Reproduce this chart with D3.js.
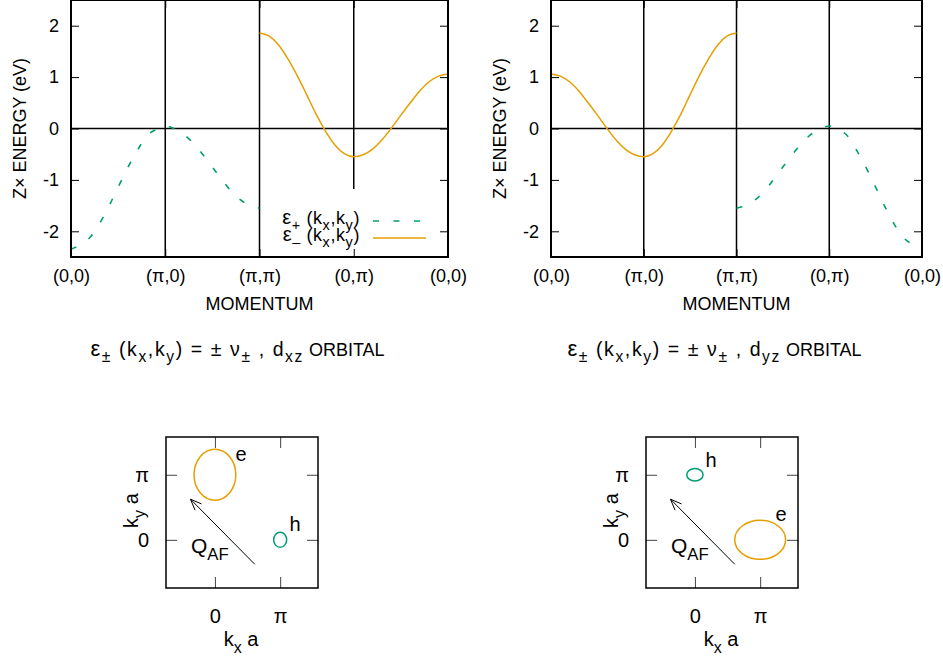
<!DOCTYPE html>
<html>
<head>
<meta charset="utf-8">
<script src="https://cdn.jsdelivr.net/npm/d3@7"></script>
<style>
body { margin: 0; background: #fff; }
text { font-family: "Liberation Sans", Arial, sans-serif; fill: #000; white-space: pre; }
</style>
</head>
<body>
<div id="chart"></div>
<script>
// path through the zone: (0,0)=0 (pi,0)=1 (pi,pi)=2 (0,pi)=3 (0,0)=4
var pathTicks = [0, 1, 2, 3, 4];
var pathLabels = ["(0,0)", "(π,0)", "(π,π)", "(0,π)", "(0,0)"];
var energyTicks = [-2, -1, 0, 1, 2];

var kFirst = [0, 0.1, 0.2, 0.3, 0.4, 0.5, 0.6, 0.7, 0.8, 0.9, 1.0,
              1.1, 1.2, 1.3, 1.4, 1.5, 1.6, 1.7, 1.8, 1.9, 2.0];
var kSecond = [2.0, 2.1, 2.2, 2.3, 2.4, 2.5, 2.6, 2.7, 2.8, 2.9, 3.0,
               3.1, 3.2, 3.3, 3.4, 3.5, 3.6, 3.7, 3.8, 3.9, 4.0];

// d_xz orbital
var xzPlus = [-2.35, -2.26, -2.12, -1.86, -1.52, -1.14, -0.77, -0.44, -0.15, -0.02, 0.05,
              -0.01, -0.12, -0.29, -0.51, -0.75, -0.99, -1.22, -1.39, -1.50, -1.55];
var xzMinus = [1.86, 1.80, 1.63, 1.36, 1.03, 0.66, 0.28, -0.05, -0.32, -0.49, -0.55,
               -0.51, -0.40, -0.22, 0.01, 0.26, 0.50, 0.73, 0.91, 1.02, 1.06];
// d_yz orbital
var yzMinus = [1.06, 1.02, 0.91, 0.73, 0.50, 0.26, 0.01, -0.22, -0.40, -0.51, -0.55,
               -0.49, -0.32, -0.05, 0.28, 0.66, 1.03, 1.36, 1.63, 1.80, 1.86];
var yzPlus = [-1.55, -1.50, -1.39, -1.22, -0.99, -0.75, -0.51, -0.29, -0.12, -0.01, 0.05,
              -0.02, -0.15, -0.44, -0.77, -1.14, -1.52, -1.86, -2.12, -2.26, -2.35];

// Fermi pockets (units of pi): [kx, ky, half width, half height]
var xzElectron = [0, 1, 0.32, 0.39];
var xzHole = [1, 0, 0.10, 0.115];
var yzElectron = [1, 0, 0.39, 0.30];
var yzHole = [0, 1, 0.125, 0.097];
var qAF = [[0.61, -0.375], [-0.375, 0.625]];
var bzTicks = [0, 1];
var bzLabels = ["0", "π"];

var green = "#009e73", orange = "#e69f00";
var W = 943, H = 659;

var svg = d3.select("#chart").append("svg")
  .attr("width", W)
  .attr("height", H);

// text with subscripts: parts = [[string, isSub, size override, letter spacing override], ...]
function richText(g, parts, x, y, size, anchor, spacing) {
  var t = g.append("text")
    .attr("x", x)
    .attr("y", y)
    .attr("font-size", size)
    .attr("text-anchor", anchor || "start");
  var shift = 0;
  parts.forEach(function(p) {
    var base = p[2] || size;
    var target = p[1] ? base * 0.33 : 0;
    var ls = p[3] !== undefined ? p[3] : spacing;
    t.append("tspan")
      .attr("dy", target - shift)
      .attr("font-size", p[1] ? base * 0.8 : base)
      .attr("letter-spacing", ls || null)
      .text(p[0]);
    shift = target;
  });
  return t;
}

var panels = [
  {left: 71, right: 448, plus: [kFirst, xzPlus], minus: [kSecond, xzMinus], legend: true, cut: -1.2, sub: "xz"},
  {left: 551, right: 922, plus: [kSecond, yzPlus], minus: [kFirst, yzMinus], legend: false, cut: -2.5, sub: "yz"}
];

var plotTop = 0, plotBottom = 257;

panels.forEach(function(p) {
  var x = d3.scaleLinear().domain([0, 4]).range([p.left, p.right]);
  var y = d3.scaleLinear().domain([-2.5, 2.5]).range([plotBottom, plotTop]);
  var g = svg.append("g");

  // zero line and high symmetry lines
  g.append("line")
    .attr("x1", x(0)).attr("x2", x(4))
    .attr("y1", y(0)).attr("y2", y(0))
    .attr("stroke", "#000").attr("stroke-width", 1.5);
  [1, 2, 3].forEach(function(k) {
    g.append("line")
      .attr("x1", x(k)).attr("x2", x(k))
      .attr("y1", y(2.5)).attr("y2", y(k == 3 ? p.cut : -2.5))
      .attr("stroke", "#000").attr("stroke-width", 1.5);
  });

  var line = d3.line()
    .x(function(d) { return x(d[0]); })
    .y(function(d) { return y(d[1]); })
    .curve(d3.curveMonotoneX);

  g.append("path")
    .datum(d3.zip(p.plus[0], p.plus[1]))
    .attr("d", line)
    .attr("fill", "none")
    .attr("stroke", green)
    .attr("stroke-width", 1.6)
    .attr("stroke-dasharray", "6,14.5");

  g.append("path")
    .datum(d3.zip(p.minus[0], p.minus[1]))
    .attr("d", line)
    .attr("fill", "none")
    .attr("stroke", orange)
    .attr("stroke-width", 1.5);

  // axes with inward ticks
  var fmt = function(d) { return String(d); };
  var ax = [
    g.append("g").attr("transform", "translate(" + x(0) + ",0)")
      .call(d3.axisLeft(y).tickValues(energyTicks).tickSize(-8).tickPadding(12).tickFormat(fmt)),
    g.append("g").attr("transform", "translate(" + x(4) + ",0)")
      .call(d3.axisRight(y).tickValues(energyTicks).tickSize(-8).tickFormat("")),
    g.append("g").attr("transform", "translate(0," + y(-2.5) + ")")
      .call(d3.axisBottom(x).tickValues(pathTicks).tickSize(-8).tickPadding(12)
        .tickFormat(function(d, i) { return pathLabels[i]; })),
    g.append("g").attr("transform", "translate(0," + y(2.5) + ")")
      .call(d3.axisTop(x).tickValues(pathTicks).tickSize(-8).tickFormat(""))
  ];
  ax.forEach(function(a) {
    a.attr("font-family", null).attr("font-size", null);
    a.select(".domain").remove();
    a.selectAll(".tick line").attr("stroke", "#000");
    a.selectAll(".tick text").attr("font-size", 18).attr("fill", "#000");
  });

  g.append("rect")
    .attr("x", x(0)).attr("y", y(2.5))
    .attr("width", x(4) - x(0)).attr("height", y(-2.5) - y(2.5))
    .attr("fill", "none").attr("stroke", "#000").attr("stroke-width", 2);

  g.append("text")
    .attr("transform", "translate(" + (x(0) - 51) + "," + y(0) + ") rotate(-90)")
    .attr("text-anchor", "middle")
    .attr("dy", "0.35em")
    .attr("font-size", 18)
    .text("Z× ENERGY (eV)");

  g.append("text")
    .attr("x", (x(0) + x(4)) / 2)
    .attr("y", 310)
    .attr("text-anchor", "middle")
    .attr("font-size", 18)
    .text("MOMENTUM");

  richText(g, [["ε", 0, 22], ["±", 1], [" (k"], ["x", 1], [",k"], ["y", 1], [") = ± ν"], ["±", 1],
               [" , d"], [p.sub, 1], [" ORBITAL", 0, 18, 0]],
           (x(0) + x(4)) / 2 - 22, 356, 19.5, "middle", 1.6);

  if (p.legend) {
    var lg = g.append("g");
    lg.append("rect")
      .attr("x", 276).attr("y", 189)
      .attr("width", 160).attr("height", 59)
      .attr("fill", "#fff");
    var rows = [["+", green, "6,14.5", 224], ["–", orange, null, 241]];
    rows.forEach(function(r) {
      richText(lg, [["ε", 0, 20], [r[0], 1], [" (k"], ["x", 1], [",k"], ["y", 1], [")"]], 360, r[3], 18, "end", 0.6);
      lg.append("line")
        .attr("x1", 373).attr("x2", 426)
        .attr("y1", r[3] - 3).attr("y2", r[3] - 3)
        .attr("stroke", r[1]).attr("stroke-width", 1.6)
        .attr("stroke-dasharray", r[2]);
    });
  }
});

// Fermi surface sketches
var bzPanels = [
  {left: 166, electron: xzElectron, hole: xzHole, eLabel: [241, 461], hLabel: [295, 531]},
  {left: 646, electron: yzElectron, hole: yzHole, eLabel: [781, 521], hLabel: [711, 467]}
];

bzPanels.forEach(function(p) {
  var x = d3.scaleLinear().domain([-0.75, 1.58]).range([p.left, p.left + 152]);
  var y = d3.scaleLinear().domain([-0.74, 1.58]).range([588, 437]);
  var g = svg.append("g");

  var piLab = function(d, i) { return bzLabels[i]; };
  var ax = [
    g.append("g").attr("transform", "translate(0,588)")
      .call(d3.axisBottom(x).tickValues(bzTicks).tickSize(-11).tickPadding(21).tickFormat(piLab)),
    g.append("g").attr("transform", "translate(0,437)")
      .call(d3.axisTop(x).tickValues(bzTicks).tickSize(-11).tickFormat("")),
    g.append("g").attr("transform", "translate(" + p.left + ",0)")
      .call(d3.axisLeft(y).tickValues(bzTicks).tickSize(-11).tickPadding(17).tickFormat(piLab)),
    g.append("g").attr("transform", "translate(" + (p.left + 152) + ",0)")
      .call(d3.axisRight(y).tickValues(bzTicks).tickSize(-11).tickFormat(""))
  ];
  ax.forEach(function(a) {
    a.attr("font-family", null).attr("font-size", null);
    a.select(".domain").remove();
    a.selectAll(".tick line").attr("stroke", "#444");
    a.selectAll(".tick text").attr("font-size", 20).attr("fill", "#000");
  });

  g.append("rect")
    .attr("x", p.left).attr("y", 437)
    .attr("width", 152).attr("height", 151)
    .attr("fill", "none").attr("stroke", "#000").attr("stroke-width", 1.5);

  [[p.electron, orange], [p.hole, green]].forEach(function(e) {
    var d = e[0];
    g.append("ellipse")
      .attr("cx", x(d[0])).attr("cy", y(d[1]))
      .attr("rx", x(d[2]) - x(0)).attr("ry", y(0) - y(d[3]))
      .attr("fill", "none").attr("stroke", e[1]).attr("stroke-width", 1.5);
  });

  // Q_AF arrow
  var x1 = x(qAF[0][0]), y1 = y(qAF[0][1]), x2 = x(qAF[1][0]), y2 = y(qAF[1][1]);
  var ang = Math.atan2(y1 - y2, x1 - x2), hl = 12, ha = 22 * Math.PI / 180;
  g.append("line")
    .attr("x1", x1).attr("y1", y1).attr("x2", x2).attr("y2", y2)
    .attr("stroke", "#000").attr("stroke-width", 1);
  g.append("path")
    .attr("d", "M" + (x2 + hl * Math.cos(ang - ha)) + "," + (y2 + hl * Math.sin(ang - ha)) +
               "L" + x2 + "," + y2 +
               "L" + (x2 + hl * Math.cos(ang + ha)) + "," + (y2 + hl * Math.sin(ang + ha)))
    .attr("fill", "none").attr("stroke", "#000").attr("stroke-width", 1);

  richText(g, [["Q"], ["AF", 1]], p.left + 25, 553, 21, "start");

  g.append("text").attr("x", p.eLabel[0]).attr("y", p.eLabel[1])
    .attr("text-anchor", "middle").attr("font-size", 20).text("e");
  g.append("text").attr("x", p.hLabel[0]).attr("y", p.hLabel[1])
    .attr("text-anchor", "middle").attr("font-size", 20).text("h");

  richText(g, [["k"], ["x", 1], [" a"]], x(0.4), 646, 20, "middle");
  richText(g.append("g").attr("transform", "translate(" + (p.left - 28) + "," + y(0.45) + ") rotate(-90)"),
           [["k"], ["y", 1], [" a"]], 0, 0, 20, "middle");
});
</script>
</body>
</html>
